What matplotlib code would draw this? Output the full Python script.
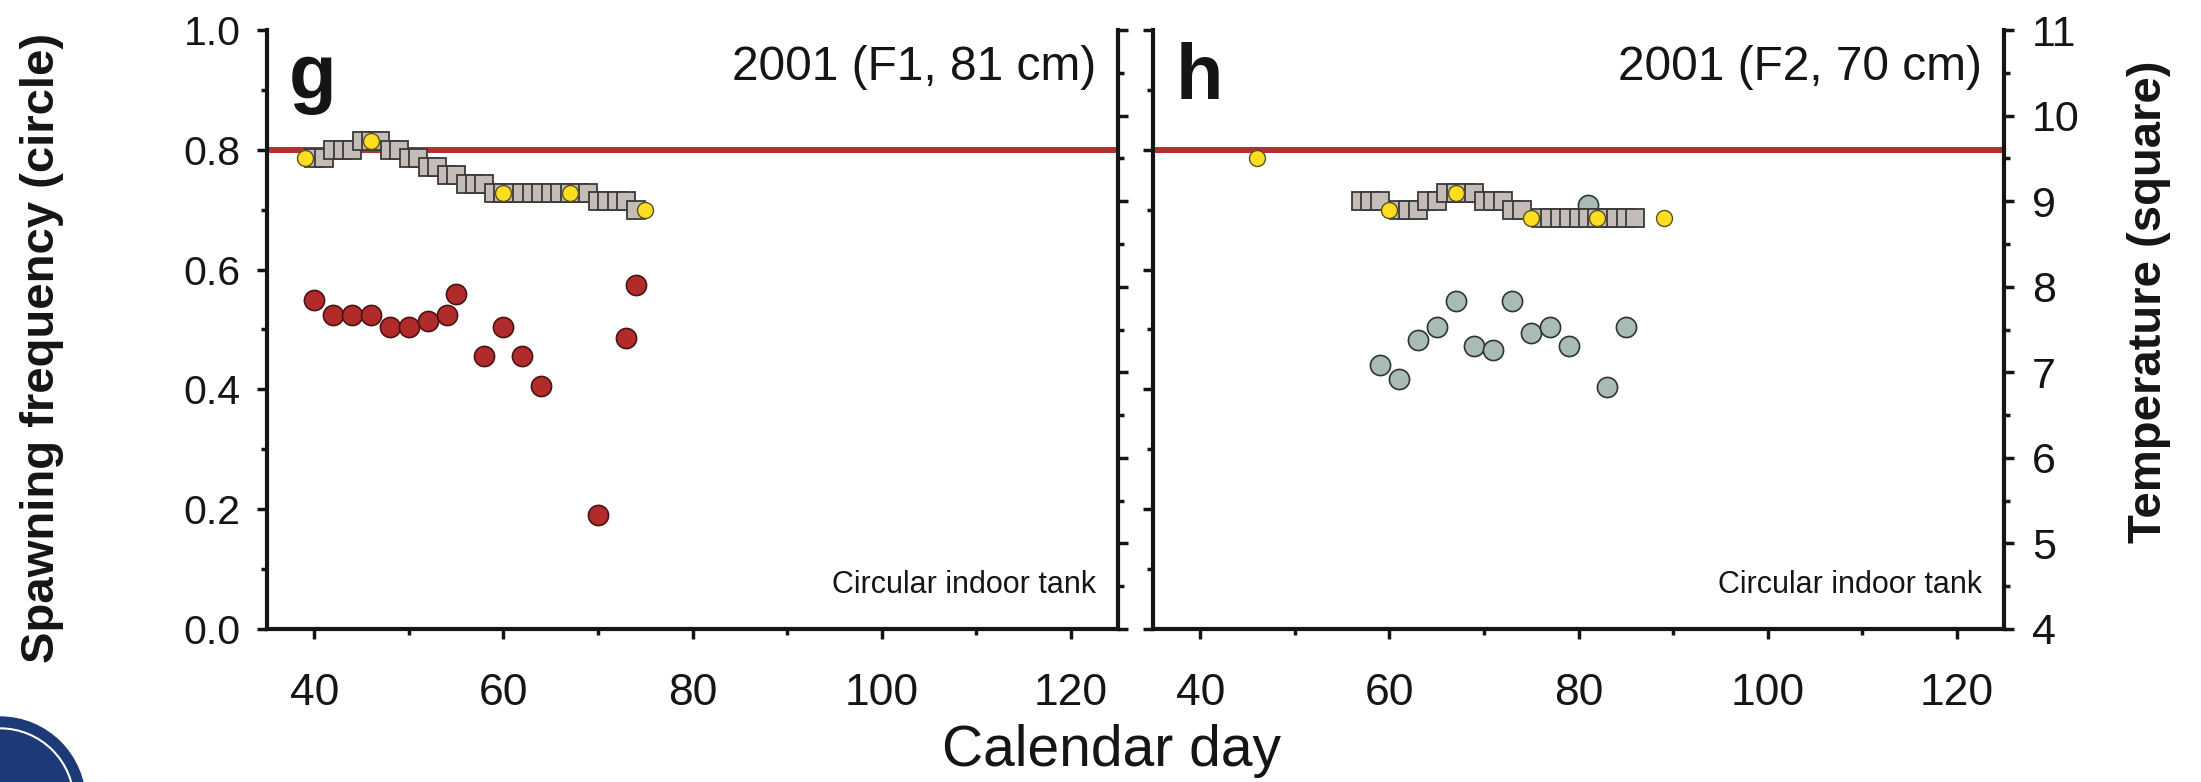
import matplotlib
matplotlib.use("Agg")
import matplotlib.pyplot as plt
from matplotlib import font_manager
from matplotlib.patches import Ellipse
from matplotlib.ticker import MultipleLocator

plt.rcParams['font.family'] = ['Liberation Sans', 'DejaVu Sans']

# --- Data: panel g (2001, F1, 81 cm) ---
g_spawn_days = [40, 42, 44, 46, 48, 50, 52, 54, 55, 58, 60, 62, 64, 70, 73, 74]
g_spawn_freq = [0.55, 0.525, 0.525, 0.525, 0.505, 0.505, 0.515, 0.525, 0.56,
                0.455, 0.505, 0.455, 0.405, 0.19, 0.485, 0.575]

g_temp_days = [40, 41, 42, 43, 44, 45, 46, 47, 48, 49, 50, 51, 52, 53, 54, 55,
               56, 57, 58, 59, 60, 61, 62, 63, 64, 65, 66, 67, 68, 69, 70, 71,
               72, 73, 74]
g_temp = [9.5, 9.5, 9.6, 9.6, 9.6, 9.7, 9.7, 9.7, 9.6, 9.6, 9.5, 9.5, 9.4, 9.4,
          9.3, 9.3, 9.2, 9.2, 9.2, 9.1, 9.1, 9.1, 9.1, 9.1, 9.1, 9.1, 9.1, 9.1,
          9.1, 9.1, 9.0, 9.0, 9.0, 9.0, 8.9]

g_probe_days = [39, 46, 60, 67, 75]
g_probe_temp = [9.5, 9.7, 9.1, 9.1, 8.9]

# --- Data: panel h (2001, F2, 70 cm) ---
h_spawn_days = [59, 61, 63, 65, 67, 69, 71, 73, 75, 77, 79, 81, 83, 85]
h_spawn_freq = [0.44, 0.418, 0.483, 0.504, 0.548, 0.473, 0.465, 0.548, 0.494,
                0.504, 0.473, 0.708, 0.404, 0.504]

h_temp_days = [57, 58, 59, 61, 62, 63, 64, 65, 66, 67, 68, 69, 70, 71, 72, 73,
               74, 76, 77, 78, 79, 80, 81, 82, 83, 84, 85, 86]
h_temp = [9.0, 9.0, 9.0, 8.9, 8.9, 8.9, 9.0, 9.0, 9.1, 9.1, 9.1, 9.1, 9.0, 9.0,
          9.0, 8.9, 8.9, 8.8, 8.8, 8.8, 8.8, 8.8, 8.8, 8.8, 8.8, 8.8, 8.8, 8.8]

h_probe_days = [46, 60, 67, 75, 82, 89]
h_probe_temp = [9.5, 8.9, 9.1, 8.8, 8.8, 8.8]

threshold = 0.8

# narrow font for x ticks / tank note if there is one
names = {f.name for f in font_manager.fontManager.ttflist}
if 'Liberation Sans Narrow' in names:
    narrow, xtick_size, note_size = 'Liberation Sans Narrow', 35, 24
else:
    narrow, xtick_size, note_size = 'Liberation Sans', 32, 22

fig = plt.figure(figsize=(22.01, 7.82), dpi=100)

panels = [
    ("g", "2001 (F1, 81 cm)", g_spawn_days, g_spawn_freq, '#b22b2b', '#4a1414',
     g_temp_days, g_temp, g_probe_days, g_probe_temp, 267, True, False),
    ("h", "2001 (F2, 70 cm)", h_spawn_days, h_spawn_freq, '#a9bbb6', '#2e3432',
     h_temp_days, h_temp, h_probe_days, h_probe_temp, 1153, False, True),
]

for (letter, title, sd, sf, fc, ec, td, tt, pd_, pt, x0, lab_left, lab_right) in panels:
    ax = fig.add_axes([x0 / 2201, 153 / 782, 851 / 2201, 599 / 782])
    ax2 = ax.twinx()

    ax.axhline(threshold, color='#b23030', lw=4.3, zorder=1)
    ax.plot(sd, sf, ls='none', marker='o', ms=14.5, mfc=fc, mec=ec, mew=1.2,
            zorder=3)
    ax2.plot(td, tt, ls='none', marker='s', ms=12.3, mfc='#c5bcb7', mec='#3a3a3a',
             mew=1.3, zorder=2)
    ax2.plot(pd_, pt, ls='none', marker='o', ms=11.5, mfc='#ffde21', mec='#5a5020',
             mew=1.0, zorder=3)

    ax.set_xlim(35, 125)
    ax.set_ylim(0, 1.0)
    ax2.set_ylim(4, 11)

    ax.xaxis.set_major_locator(MultipleLocator(20))
    ax.xaxis.set_minor_locator(MultipleLocator(10))
    ax.yaxis.set_major_locator(MultipleLocator(0.2))
    ax.yaxis.set_minor_locator(MultipleLocator(0.1))
    ax2.yaxis.set_major_locator(MultipleLocator(1))
    ax2.yaxis.set_minor_locator(MultipleLocator(0.5))

    for a in (ax, ax2):
        a.spines['top'].set_visible(False)
        for s in a.spines.values():
            s.set_linewidth(3)
            s.set_color('#151515')
    ax.spines['right'].set_visible(False)
    ax2.spines['left'].set_visible(False)
    ax2.spines['bottom'].set_visible(False)

    ax.tick_params(axis='both', which='major', direction='out', length=7,
                   width=2.5, color='#151515')
    ax.tick_params(axis='both', which='minor', direction='out', length=4,
                   width=2.5, color='#151515')
    ax2.tick_params(axis='y', which='major', direction='out', length=7,
                    width=2.5, color='#151515')
    ax2.tick_params(axis='y', which='minor', direction='out', length=4,
                    width=2.5, color='#151515')

    ax.tick_params(axis='x', which='major', pad=25)
    ax.set_xticks([40, 60, 80, 100, 120])
    ax.set_xticklabels(['40', '60', '80', '100', '120'], fontfamily=narrow,
                       fontsize=xtick_size, color='#151515')

    if lab_left:
        ax.tick_params(axis='y', which='major', pad=12, labelsize=29.5,
                       labelcolor='#151515')
        ax.yaxis.set_major_formatter(plt.FormatStrFormatter('%.1f'))
    else:
        ax.tick_params(axis='y', labelleft=False)
    if lab_right:
        ax2.tick_params(axis='y', which='major', pad=13, labelsize=31,
                        labelcolor='#151515')
    else:
        ax2.tick_params(axis='y', labelright=False)

    ax.text(0.974, 0.9165, title, transform=ax.transAxes, ha='right',
            va='baseline', fontsize=34.5, color='#151515')
    ax.text(0.974, 0.06, "Circular indoor tank", transform=ax.transAxes,
            ha='right', va='baseline', fontsize=note_size, fontfamily=narrow,
            color='#151515')
    ax.text(0.026, 0.885, letter, transform=ax.transAxes, ha='left',
            va='baseline', fontsize=56, fontweight='bold', color='#151515')

fig.text(0.0189, 0.555, "Spawning frequency (circle)", rotation=90,
         ha='center', va='center', fontsize=34, fontweight='bold',
         color='#151515')
fig.text(0.9766, 0.6145, "Temperature (square)", rotation=90,
         ha='center', va='center', fontsize=34, fontweight='bold',
         color='#151515')
fig.text(0.505, 0.0205, "Calendar day", ha='center', va='baseline',
         fontsize=41, color='#151515')

# corner seal (cropped logo in the source image)
fig.patches.append(Ellipse((0.0, -0.026), 2 * 86 / 2201, 2 * 86 / 782,
                           transform=fig.transFigure, facecolor='#1c3a78',
                           edgecolor='none'))
fig.patches.append(Ellipse((0.0, -0.026), 2 * 74 / 2201, 2 * 74 / 782,
                           transform=fig.transFigure, facecolor='none',
                           edgecolor='white', lw=1.5))

fig.savefig("out.png", dpi=100)
